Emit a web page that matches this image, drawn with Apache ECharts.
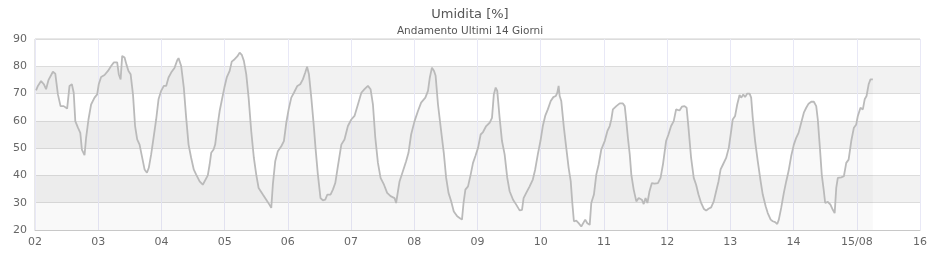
<!DOCTYPE html>
<html>
<head>
<meta charset="utf-8">
<script src="https://cdn.jsdelivr.net/npm/echarts@6/dist/echarts.min.js"></script>
<style>
html,body{margin:0;padding:0;background:#fff;}
#chart{width:940px;height:260px;}
</style>
</head>
<body>
<div id="chart"></div>
<script>
const titleText = 'Umidita [%]';
const subtitleText = 'Andamento Ultimi 14 Giorni';
const xTickLabels = ['02','03','04','05','06','07','08','09','10','11','12','13','14','15/08','16'];
const yTicks = [20, 30, 40, 50, 60, 70, 80, 90];
// hours since 02/08 00:00
const hours = [
0.4,1.1,2.3,3.4,4.2,5.1,6.8,7.7,8.7,9.7,10.9,11.5,12.2,13.1,14.0,14.7,15.3,16.3,17.2,17.8,18.4,18.8,19.4,20.3,21.3,22.6,23.6,
24.2,25.1,26.4,27.7,28.9,29.9,31.2,31.8,32.5,33.1,34.0,34.7,35.5,36.3,37.2,38.0,38.8,39.7,40.6,41.6,42.5,43.2,44.1,45.1,46.0,46.9,47.9,
48.9,49.8,50.7,51.7,53.0,54.0,54.5,55.5,56.5,57.4,58.3,59.3,60.3,61.2,62.5,63.7,64.4,65.6,66.3,66.9,67.8,68.4,69.2,70.1,71.0,71.9,
72.8,73.9,74.7,75.8,76.8,77.7,78.5,79.3,80.2,81.1,82.1,83.1,84.0,84.9,86.5,87.8,89.0,89.7,90.3,91.2,92.2,93.5,94.5,95.4,
96.3,97.3,98.3,99.6,100.7,101.7,102.6,103.3,104.0,104.9,105.8,106.5,107.4,108.4,109.3,110.2,111.0,112.2,113.1,114.0,115.0,116.3,117.5,118.8,
120.1,121.3,122.6,123.9,125.1,126.4,127.4,128.3,129.2,130.2,131.2,132.5,133.7,135.0,136.5,137.1,137.8,138.4,139.7,140.9,141.8,142.8,
144.1,145.4,146.6,148.2,149.2,149.9,150.7,151.5,152.1,153.0,154.2,155.2,156.1,157.0,158.0,159.0,160.3,161.2,162.1,162.7,163.4,164.4,165.4,166.3,167.2,
168.2,169.2,170.1,171.3,172.6,173.5,174.2,174.9,175.5,176.4,177.3,178.3,179.3,180.2,181.5,182.7,184.0,184.9,185.5,186.5,187.8,189.0,189.9,190.9,
191.9,192.8,193.7,194.7,195.8,196.8,197.7,198.3,198.8,199.2,199.8,200.8,201.7,202.6,203.4,204.0,204.6,205.5,206.4,207.4,208.0,208.9,209.7,210.6,211.2,212.2,213.1,
214.0,215.0,216.3,217.3,218.2,218.8,219.4,220.7,222.0,223.2,223.9,224.5,225.1,225.8,226.4,227.3,228.3,229.2,229.9,230.4,231.1,231.8,232.5,233.3,234.2,235.2,236.5,237.5,238.4,
239.0,239.6,240.5,241.5,242.5,243.4,244.1,244.7,245.6,246.6,247.4,248.1,249.1,250.1,251.0,251.9,252.9,253.9,254.8,255.7,256.7,257.7,258.6,259.5,260.3,261.2,262.4,263.4,
264.3,264.9,265.8,266.6,267.5,268.1,268.9,269.6,270.4,271.3,271.9,272.5,273.4,274.4,275.5,276.3,277.4,278.2,279.3,280.1,281.0,281.8,282.4,283.3,284.3,285.2,286.1,287.1,
288.1,289.0,289.9,290.9,291.9,292.8,293.7,294.7,295.7,296.6,297.2,298.0,298.7,299.5,300.0,301.0,302.0,302.9,303.6,304.2,304.8,306.1,307.1,308.0,308.9,309.9,310.9,311.8,
312.4,313.4,314.3,315.0,315.7,316.5,317.2,318.1
];
const humidity = [
71.2,72.8,74.6,73.4,71.6,74.9,78,77.3,69.7,65.4,65.4,66,64.5,72.8,73.4,70.3,59.9,57.5,55.6,49.5,50.1,47.4,53.8,60.5,66,68.5,69.7,
73.4,76.1,76.8,78.3,80.1,81.4,81.4,77.1,75.2,83.8,83.2,80.7,78.3,77.1,69.7,58.1,53.2,51.3,47,42.2,41,42.8,47.7,54.4,60.5,67.9,71,
72.8,72.8,75.9,77.7,79.5,82.2,83,80.1,72.2,61.1,51.3,46.4,42.1,40.3,37.8,36.6,37.2,40,44,48.3,49.5,51.3,57.5,63.6,67.9,72.2,
75.9,78.3,81.7,82.6,83.6,85,84.2,82,77.1,68.5,56.2,46.4,40.3,35.4,33,31.1,29.3,28.1,36.6,45.2,48.9,50.7,52.6,59.3,
64.2,68.5,70.3,72.8,73.4,75.2,77.7,79.8,77.1,68.5,58.7,50.1,40.3,31.7,30.9,31.1,33,33,34.8,37.2,43.4,51.3,53.2,58.1,
60.5,61.8,66,70.3,71.6,72.8,71.6,66,53.8,44.6,39.1,36.6,33.6,32.4,31.7,29.9,34.2,37.8,41.6,45.2,48.3,55,
59.9,63.6,66.7,68.5,71,75.9,79.5,78.3,76.5,66,56.2,48.3,39.1,33.6,30.5,26.8,25,24.4,23.8,29.9,34.8,36,40.3,44.6,47.1,
50.1,55,55.9,58.1,59.3,61.1,69.7,72.2,71,61.1,52.6,47.7,39.1,34.2,31.1,29.3,27.2,27.4,31.7,33.6,36,38.5,42.2,47.7,
52.6,58.1,61.8,64.2,67.3,68.7,69.1,70.3,72.8,69.1,67.3,57.5,50.1,42.8,37.8,29.9,23.2,23.4,22.5,21.3,21.9,23.8,22.5,21.9,29.9,33,40.3,
44,49.5,52.6,56.2,58.1,60.5,64.2,65.4,66.4,66.4,65.4,59.9,53.8,47.7,40.3,34.8,30.5,31.7,32.4,31.1,29.5,31.7,29.9,34.2,37.2,37,37.2,39.1,44,
48.3,52.6,55,58.1,59.9,64.2,64.8,63.8,65.2,65.4,64.8,57.5,46.4,39.1,36.6,33,29.9,27.8,27.1,27.8,28.3,30.5,34.2,37.8,42.2,44,46.4,50.1,
56.2,60.5,61.8,66,69.5,68.5,69.7,68.7,70,70,68.5,61.1,52.6,45.2,37.8,33,28.7,26.2,23.8,23.2,22.9,22.2,23.8,28.1,33.6,37.8,41.6,47.1,
51.3,53.8,55.6,59.3,63,64.8,66.3,67,67,65.4,60.5,50.1,40.3,34.2,29.9,30.3,29.3,27.4,26.2,35.4,39.1,39.3,39.7,44.6,45.8,52.6,57.5,58.7,
61.8,64.8,64.2,67.9,69.1,73.4,75.2,75.2
];

const seriesData = hours.map((h, i) => [h, humidity[i]]);
const chart = echarts.init(document.getElementById('chart'), null, {renderer: 'canvas'});
const font = 'DejaVu Sans';
chart.setOption({
  animation: false,
  backgroundColor: '#ffffff',
  title: [
    {text: titleText, left: 'center', top: 3, textStyle: {fontFamily: font, fontSize: 13, fontWeight: 'normal', color: '#555'}},
    {text: subtitleText, left: 'center', top: 21, textStyle: {fontFamily: font, fontSize: 10.5, fontWeight: 'normal', color: '#555'}}
  ],
  grid: {left: 35, right: 20, top: 39, bottom: 30, show: true, borderColor: '#d0d0d0', borderWidth: 1, backgroundColor: 'transparent'},
  xAxis: {
    type: 'value', min: 0, max: 336, interval: 24,
    axisLine: {show: true, lineStyle: {color: '#c8c8c8'}},
    axisTick: {show: false},
    axisLabel: {fontFamily: font, fontSize: 11, color: '#666', margin: 7, formatter: v => xTickLabels[Math.round(v / 24)]},
    splitLine: {show: true, lineStyle: {color: '#e8e8f6', width: 1}}
  },
  yAxis: {
    type: 'value', min: yTicks[0], max: yTicks[yTicks.length - 1], interval: 10,
    axisLine: {show: false},
    axisTick: {show: false},
    axisLabel: {fontFamily: font, fontSize: 11, color: '#666', margin: 8},
    splitLine: {show: true, lineStyle: {color: '#dcdcdc', width: 1}},
    splitArea: {show: true, areaStyle: {color: ['#ffffff', '#f2f2f2']}}
  },
  series: [{
    type: 'line',
    data: seriesData,
    showSymbol: false,
    lineStyle: {color: '#bababa', width: 1.8},
    areaStyle: {color: 'rgba(0,0,0,0.035)', origin: 'start'}
  }]
});
</script>
</body>
</html>
